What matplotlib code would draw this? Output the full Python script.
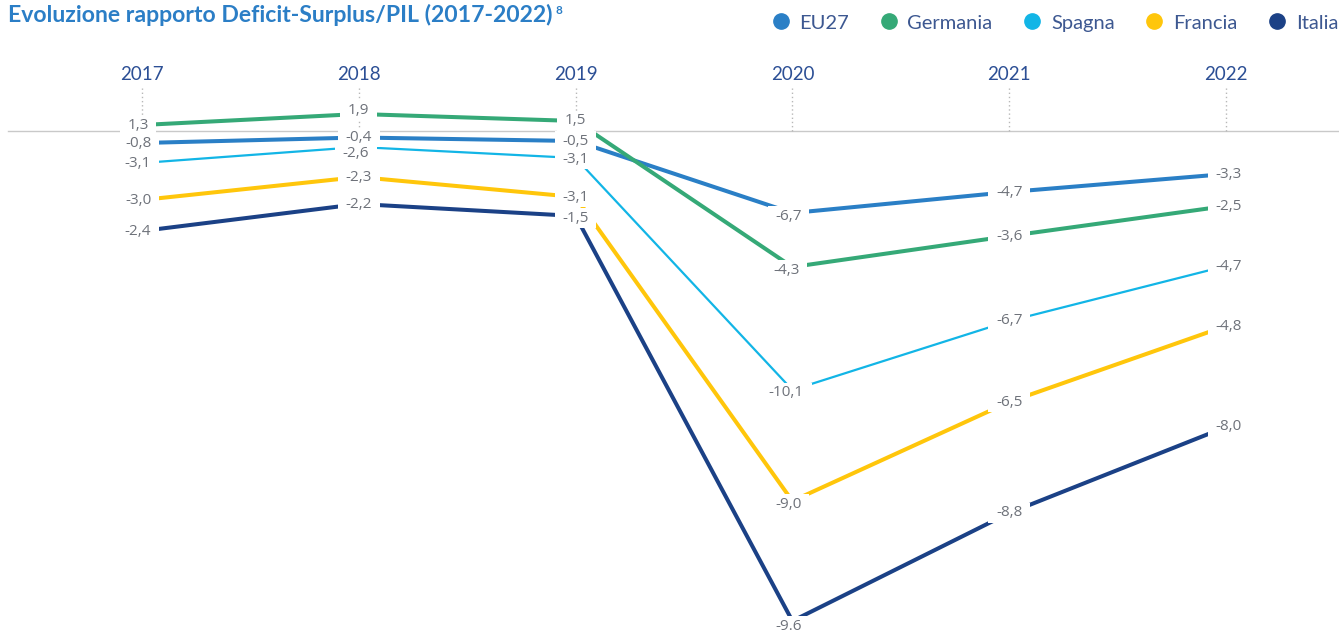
import matplotlib.pyplot as plt
from matplotlib.lines import Line2D
from matplotlib.path import Path
import numpy as np

plt.rcParams['font.family'] = ['Lato', 'DejaVu Sans']

years = ['2017', '2018', '2019', '2020', '2021', '2022']
series = ['EU27', 'Germania', 'Spagna', 'Francia', 'Italia']
colors = ['#2a7fc6', '#35a977', '#12b5e6', '#ffc60b', '#1b4186']
widths = [2.9, 2.9, 1.6, 2.9, 2.9]

# vertical level of each point as drawn in the picture (the drawing does not follow the labels)
eu27_lvl = [-0.24, -0.13, -0.20, -1.64, -1.22, -0.86]
germania_lvl = [0.12, 0.34, 0.20, -2.72, -2.10, -1.50]
spagna_lvl = [-0.64, -0.32, -0.54, -5.18, -3.80, -2.70]
francia_lvl = [-1.38, -0.92, -1.32, -7.40, -5.42, -3.90]
italia_lvl = [-2.00, -1.46, -1.70, -9.80, -7.64, -5.92]

# printed values
eu27_lbl = ['-0,8', '-0,4', '-0,5', '-6,7', '-4,7', '-3,3']
germania_lbl = ['1,3', '1,9', '1,5', '-4,3', '-3,6', '-2,5']
spagna_lbl = ['-3,1', '-2,6', '-3,1', '-10,1', '-6,7', '-4,7']
francia_lbl = ['-3,0', '-2,3', '-3,1', '-9,0', '-6,5', '-4,8']
italia_lbl = ['-2,4', '-2,2', '-1,5', '-9.6', '-8,8', '-8,0']

levels = [eu27_lvl, germania_lvl, spagna_lvl, francia_lvl, italia_lvl]
labels = [eu27_lbl, germania_lbl, spagna_lbl, francia_lbl, italia_lbl]

# label nudges per year (pixels, +dy = down)
dx = [-4, 0, 0, -4, 0, 3]
dy = [0, 0, 0, 3, 0, 0]
extra = {(2, 1): (-3, 6), (1, 1): (0, -3), (2, 2): (0, 1), (4, 2): (0, 2),
         (4, 3): (0, 2), (1, 3): (-2, 0), (2, 3): (-2, 0)}


def wide_box(x0, y0, width, height, mutation_size):
    # white mask: wider sideways than up/down
    px, py = 0.5 * mutation_size, 0.14 * mutation_size
    return Path([(x0 - px, y0 - py), (x0 + width + px, y0 - py),
                 (x0 + width + px, y0 + height + py), (x0 - px, y0 + height + py),
                 (x0 - px, y0 - py)], closed=True)


fig = plt.figure(figsize=(13.39, 6.39), dpi=100)
ax = fig.add_axes([0, 0, 1, 1])
ax.axis('off')
x = np.arange(len(years))
ax.set_xlim(-142 / 216.8, (1339 - 142) / 216.8)
ax.set_ylim(-10.16, 2.62)

ax.axhline(0, xmin=8 / 1339, xmax=1, color='#c9c9c9', lw=1, zorder=1)
ax.vlines(x, 0, 0.86, colors='#b8b8b8', linestyles=(0, (1, 2)), lw=1, zorder=1)
for i, yr in enumerate(years):
    ax.text(i, 1.14, yr, ha='center', va='center', fontsize=13.5, color='#2c4f95')

for k in range(len(series)):
    ax.plot(x, levels[k], color=colors[k], lw=widths[k], solid_capstyle='butt', zorder=2)
for k in range(len(series)):
    for i in range(len(years)):
        ex, ey = extra.get((k, i), (0, 0))
        ax.annotate(labels[k][i], (x[i], levels[k][i]),
                    xytext=((dx[i] + ex) * 0.72, -(dy[i] + ey) * 0.72),
                    textcoords='offset points', ha='center', va='center',
                    fontsize=11, family=['Open Sans', 'DejaVu Sans'],
                    color='#6e727a', zorder=5,
                    bbox=dict(boxstyle=wide_box, fc='white', ec='none'))

t = fig.text(8 / 1339, 1 - 15 / 639, 'Evoluzione rapporto Deficit-Surplus/PIL (2017-2022)',
             ha='left', va='center', fontsize=16.6, fontweight='bold', color='#2b7ec6')
fig.canvas.draw()
bb = t.get_window_extent()
fig.text((bb.x1 + 3) / 1339, 1 - 10 / 639, '8', ha='left', va='center',
         fontsize=8.5, fontweight='bold', color='#2b7ec6')

handles = [Line2D([], [], ls='none', marker='o', markersize=11, color=c) for c in colors]
fig.legend(handles, series, ncol=5, loc='center right', bbox_to_anchor=(1338 / 1339, 1 - 23 / 639),
           frameon=False, fontsize=14.5, labelcolor='#3d5891', handlelength=0.75,
           handletextpad=0.55, columnspacing=1.6, borderpad=0, borderaxespad=0)

fig.savefig('out.png', dpi=100)
